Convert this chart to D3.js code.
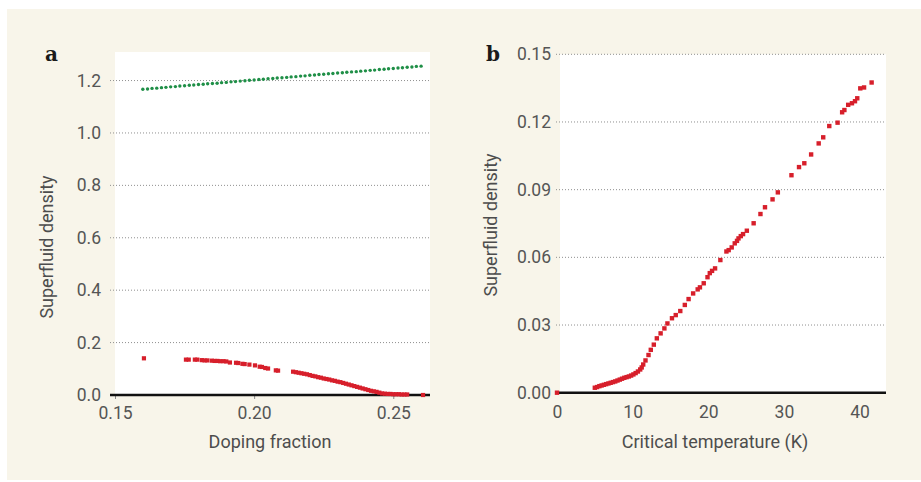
<!DOCTYPE html>
<html>
<head>
<meta charset="utf-8">
<script src="https://cdn.jsdelivr.net/npm/d3@7"></script>
<style>
  html, body { margin: 0; padding: 0; background: #ffffff; }
  svg { display: block; }
  .tick text { font-family: Roboto, "Liberation Sans", Arial, sans-serif; font-size: 17.5px; fill: #555555; }
  .title { font-family: Roboto, "Liberation Sans", Arial, sans-serif; font-size: 18px; fill: #4d4d4d; }
  .panel { font-family: "DejaVu Serif", serif; font-weight: bold; font-size: 20px; fill: #1a1a1a; }
</style>
</head>
<body>
<svg id="chart" width="921" height="482"></svg>
<script>
// Panel a: superfluid density against doping fraction
const dopingTicks = [0.15, 0.20, 0.25];
const densityTicksA = [0.0, 0.2, 0.4, 0.6, 0.8, 1.0, 1.2];

// upper (green) series
const greenDoping = [
  0.1600, 0.1617, 0.1633, 0.1650, 0.1667, 0.1683, 0.1700, 0.1717, 0.1733, 0.1750,
  0.1767, 0.1783, 0.1800, 0.1817, 0.1833, 0.1850, 0.1867, 0.1883, 0.1900, 0.1917,
  0.1933, 0.1950, 0.1967, 0.1983, 0.2000, 0.2017, 0.2033, 0.2050, 0.2067, 0.2083,
  0.2100, 0.2117, 0.2133, 0.2150, 0.2167, 0.2183, 0.2200, 0.2217, 0.2233, 0.2250,
  0.2267, 0.2283, 0.2300, 0.2317, 0.2333, 0.2350, 0.2367, 0.2383, 0.2400, 0.2417,
  0.2433, 0.2450, 0.2467, 0.2483, 0.2500, 0.2517, 0.2533, 0.2550, 0.2567, 0.2583, 0.2600
];
const greenDensity = [
  1.167, 1.168, 1.170, 1.171, 1.173, 1.174, 1.176, 1.177, 1.179, 1.180,
  1.182, 1.183, 1.185, 1.186, 1.188, 1.189, 1.190, 1.192, 1.193, 1.195,
  1.196, 1.198, 1.199, 1.201, 1.202, 1.204, 1.205, 1.207, 1.208, 1.210,
  1.211, 1.212, 1.214, 1.215, 1.217, 1.218, 1.220, 1.221, 1.223, 1.224,
  1.226, 1.227, 1.229, 1.230, 1.232, 1.233, 1.234, 1.236, 1.237, 1.239,
  1.240, 1.242, 1.243, 1.245, 1.246, 1.248, 1.249, 1.251, 1.252, 1.254, 1.255
];

// lower (red) series
const redDoping = [
  0.1604,
  0.1755, 0.1765, 0.1787, 0.1796, 0.1812, 0.1822, 0.1832, 0.1848, 0.1858, 0.1868,
  0.1878, 0.1890, 0.1900, 0.1913, 0.1935, 0.1943, 0.1958, 0.1966, 0.1983, 0.2003,
  0.2020, 0.2028, 0.2040, 0.2050, 0.2078, 0.2086,
  0.2140, 0.2150, 0.2160, 0.2170, 0.2180, 0.2190, 0.2200, 0.2210, 0.2220, 0.2230,
  0.2240, 0.2250, 0.2260, 0.2270, 0.2280, 0.2290, 0.2300, 0.2310, 0.2320, 0.2330,
  0.2340, 0.2350, 0.2360, 0.2370, 0.2380, 0.2390, 0.2400, 0.2410, 0.2420, 0.2430,
  0.2440, 0.2450, 0.2460, 0.2470, 0.2480, 0.2490, 0.2500, 0.2510, 0.2520, 0.2530,
  0.2540, 0.2550, 0.2607
];
const redDensity = [
  0.140,
  0.135, 0.135, 0.135, 0.135, 0.133, 0.132, 0.132, 0.131, 0.130, 0.130,
  0.129, 0.129, 0.128, 0.124, 0.123, 0.122, 0.119, 0.118, 0.116, 0.113,
  0.108, 0.107, 0.103, 0.101, 0.094, 0.093,
  0.089, 0.087, 0.085, 0.083, 0.081, 0.079, 0.076, 0.073, 0.071, 0.068,
  0.066, 0.063, 0.061, 0.059, 0.056, 0.054, 0.051, 0.049, 0.046, 0.043,
  0.040, 0.037, 0.034, 0.031, 0.028, 0.025, 0.022, 0.019, 0.016, 0.014,
  0.012, 0.009, 0.006, 0.005, 0.004, 0.004, 0.003, 0.003, 0.003, 0.002,
  0.002, 0.002, 0.000
];

// Panel b: superfluid density against critical temperature
const tempTicks = [0, 10, 20, 30, 40];
const densityTicksB = [0.00, 0.03, 0.06, 0.09, 0.12, 0.15];
const tcKelvin = [
  0,
  5.0, 5.3, 5.6, 5.9, 6.2, 6.5, 6.8, 7.1, 7.4, 7.7,
  8.0, 8.3, 8.6, 8.9, 9.2, 9.5, 9.8, 10.1, 10.4, 10.7,
  11.0, 11.2, 11.4, 11.7, 12.1, 12.4, 12.8, 13.2, 13.7, 14.2,
  14.6, 15.2, 15.7, 16.3, 16.9, 17.4, 18.0, 18.6, 18.9, 19.4,
  19.9, 20.2, 20.5, 20.9, 21.6, 22.4, 22.7, 23.1, 23.5, 23.8,
  24.0, 24.3, 24.6, 25.1, 26.0, 26.9, 27.5, 28.5, 29.2, 31.0,
  32.0, 32.7, 33.6, 34.6, 35.2, 36.0, 37.1, 37.7, 38.0, 38.5,
  39.0, 39.4, 39.7, 40.1, 40.6, 41.6
];
const tcDensity = [
  0,
  0.0022, 0.0025, 0.0029, 0.0032, 0.0035, 0.0038, 0.0041, 0.0044, 0.0047, 0.0050,
  0.0054, 0.0058, 0.0062, 0.0066, 0.0069, 0.0072, 0.0076, 0.0081, 0.0087, 0.0094,
  0.0103, 0.0112, 0.0125, 0.0143, 0.0167, 0.0190, 0.0213, 0.0241, 0.0263, 0.0285,
  0.0307, 0.0330, 0.0344, 0.0362, 0.0389, 0.0415, 0.0440, 0.0458, 0.0467, 0.0485,
  0.0512, 0.0530, 0.0540, 0.0551, 0.0588, 0.0626, 0.0632, 0.0644, 0.0662, 0.0673,
  0.0684, 0.0694, 0.0703, 0.0718, 0.0751, 0.0792, 0.0822, 0.0857, 0.0888, 0.0964,
  0.1000, 0.1017, 0.1056, 0.1105, 0.1132, 0.1182, 0.1197, 0.1243, 0.1253, 0.1276,
  0.1283, 0.1292, 0.1305, 0.1349, 0.1353, 0.1375
];

const RED = "#d71f2b";
const GREEN = "#1f8f47";

const svg = d3.select("#chart");

// page background
svg.append("rect").attr("x", 7).attr("y", 9).attr("width", 914).attr("height", 471)
  .attr("fill", "#f8f5ea");

function drawPanel(opt) {
  const g = svg.append("g");
  const x = d3.scaleLinear().domain(opt.xDomain).range(opt.xRange);
  const y = d3.scaleLinear().domain(opt.yDomain).range(opt.yRange);

  // white plotting area
  g.append("rect")
    .attr("x", opt.plotLeft).attr("y", y(opt.yDomain[1]))
    .attr("width", x(opt.xDomain[1]) - opt.plotLeft)
    .attr("height", y(0) - y(opt.yDomain[1]))
    .attr("fill", "#ffffff");

  // dotted horizontal gridlines
  g.selectAll("line.grid").data(opt.yTicks.filter(d => d !== 0)).join("line")
    .attr("class", "grid")
    .attr("x1", opt.lineLeft).attr("x2", x(opt.xDomain[1]))
    .attr("y1", d => y(d)).attr("y2", d => y(d))
    .attr("stroke", "#8f8f8f").attr("stroke-width", 1)
    .attr("stroke-dasharray", "1,2");

  // y tick labels
  const yAxis = d3.axisLeft(y).tickValues(opt.yTicks).tickFormat(opt.yFormat)
    .tickSize(0).tickPadding(0);
  g.append("g").attr("transform", `translate(${opt.yLabelRight},0)`).call(yAxis)
    .call(s => s.select(".domain").remove());

  // x tick labels
  const xAxis = d3.axisBottom(x).tickValues(opt.xTicks).tickFormat(opt.xFormat)
    .tickSize(opt.xTickSize).tickPadding(opt.xTickPad);
  g.append("g").attr("transform", `translate(0,${y(0)})`).call(xAxis)
    .call(s => s.select(".domain").remove())
    .call(s => s.selectAll(".tick line").attr("stroke", "#888").attr("stroke-width", 1));

  // baseline at zero
  g.append("line")
    .attr("x1", opt.lineLeft).attr("x2", x(opt.xDomain[1]))
    .attr("y1", y(0)).attr("y2", y(0))
    .attr("stroke", "#111").attr("stroke-width", 2.6);

  // data markers
  opt.series.forEach(s => {
    const pts = s.xs.map((v, i) => [v, s.ys[i]]);
    if (s.round) {
      g.selectAll(null).data(pts).join("circle")
        .attr("cx", d => x(d[0])).attr("cy", d => y(d[1]))
        .attr("r", s.size / 2).attr("fill", s.color);
    } else {
      g.selectAll(null).data(pts).join("rect")
        .attr("x", d => x(d[0]) - s.size / 2)
        .attr("y", d => y(d[1]) - s.size / 2)
        .attr("width", s.size).attr("height", s.size)
        .attr("fill", s.color);
    }
  });

  // axis titles
  g.append("text").attr("class", "title")
    .attr("x", opt.xTitleX).attr("y", 448)
    .attr("text-anchor", "middle").text(opt.xTitle);
  g.append("text").attr("class", "title")
    .attr("transform", `translate(${opt.yTitleX},${opt.yTitleY}) rotate(-90)`)
    .attr("text-anchor", "middle").text("Superfluid density");

  // panel letter
  g.append("text").attr("class", "panel")
    .attr("x", opt.letterX).attr("y", 61).text(opt.letter);
}

drawPanel({
  xDomain: [0.15, 0.2632], xRange: [115, 430],
  yDomain: [0, 1.309], yRange: [395, 52],
  plotLeft: 115, lineLeft: 110, yLabelRight: 101,
  yTicks: densityTicksA, yFormat: d3.format(".1f"),
  xTicks: dopingTicks, xFormat: d3.format(".2f"), xTickSize: 4, xTickPad: 8,
  xTitle: "Doping fraction", xTitleX: 270,
  yTitleX: 53, yTitleY: 247,
  letter: "a", letterX: 45,
  series: [
    { xs: greenDoping, ys: greenDensity, color: GREEN, size: 3.4, round: true },
    { xs: redDoping, ys: redDensity, color: RED, size: 4.2 }
  ]
});

drawPanel({
  xDomain: [0, 43.5], xRange: [557, 886],
  yDomain: [0, 0.15], yRange: [392.7, 54.3],
  plotLeft: 560, lineLeft: 556, yLabelRight: 551,
  yTicks: densityTicksB, yFormat: d3.format(".2f"),
  xTicks: tempTicks, xFormat: d3.format("d"), xTickSize: 0, xTickPad: 13,
  xTitle: "Critical temperature (K)", xTitleX: 715,
  yTitleX: 497, yTitleY: 225,
  letter: "b", letterX: 486,
  series: [
    { xs: tcKelvin, ys: tcDensity, color: RED, size: 4.4 }
  ]
});
</script>
</body>
</html>
